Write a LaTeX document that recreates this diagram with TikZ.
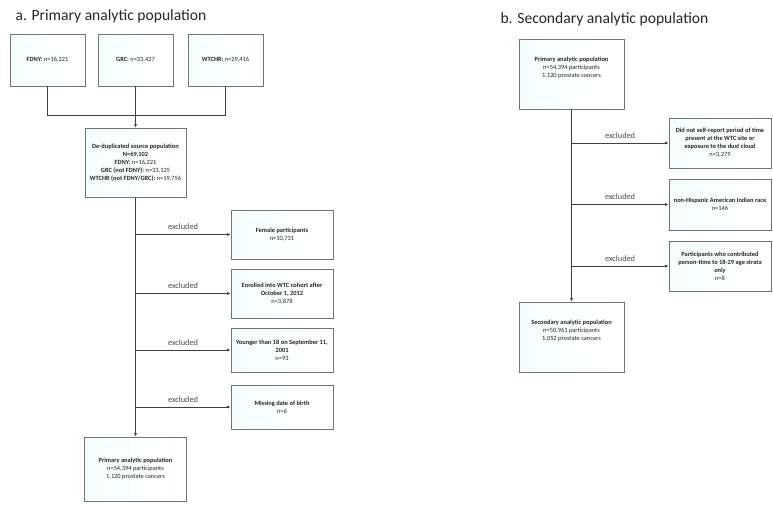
\documentclass[tikz,border=0pt]{standalone}
\usepackage{fontspec}
\setmainfont{Carlito}
\usetikzlibrary{arrows.meta}

\begin{document}
\begin{tikzpicture}[x=1pt,y=-1pt,>={Latex[length=3.5pt,width=3pt]},
  box/.style={draw=black!55,line width=0.7pt,left color=blue!6!cyan!4!white,right color=white,
    align=center,inner sep=1pt,font=\fontsize{6.4}{8}\selectfont,text=black!85},
  link/.style={draw=black!75,line width=0.7pt},
  title/.style={anchor=west,font=\fontsize{15.6}{18}\selectfont,text=black!85}]
  \tikzstyle{excl} = [above=1pt,font=\fontsize{8.3}{10}\selectfont,text=black!70]
  \path[use as bounding box,fill=white] (0,0) rectangle (773,504);
  \node (a_title) [title] at (12,16) {a. Primary analytic population};
  \node (b_title) [title] at (497,19) {b. Secondary analytic population};
  \node (a_fdny) [box,minimum width=75pt,minimum height=52pt] at (47.5,60) {\textbf{FDNY:} n=16,221};
  \node (a_grc) [box,minimum width=75pt,minimum height=52pt] at (135.5,60) {\textbf{GRC:} n=33,427};
  \node (a_wtchr) [box,minimum width=75pt,minimum height=52pt] at (225.5,60) {\textbf{WTCHR:} n=29,416};
  \coordinate (a_join) at (135.5,115);
  \node (a_dedup) [box,minimum width=101pt,minimum height=69pt] at (135.5,162.5)
    {\textbf{De-duplicated source population}\\ \textbf{N=69,102}\\ \textbf{FDNY:} n=16,221\\
     \textbf{GRC (not FDNY):} n=33,125\\ \textbf{WTCHR (not FDNY/GRC):} n=19,756};
  \node (a_female) [box,minimum width=102pt,minimum height=49pt] at (282,234.5)
    {\textbf{Female participants}\\ n=10,731};
  \node (a_enrol) [box,minimum width=102pt,minimum height=49pt] at (282,293.5)
    {\textbf{Enrolled into WTC cohort after}\\ \textbf{October 1, 2012}\\ n=3,878};
  \node (a_young) [box,minimum width=102pt,minimum height=44pt] at (282,350)
    {\textbf{Younger than 18 on September 11,}\\ \textbf{2001}\\ n=93};
  \node (a_missing) [box,minimum width=102pt,minimum height=44pt] at (282,407)
    {\textbf{Missing date of birth}\\ n=6};
  \node (a_primary) [box,minimum width=102pt,minimum height=64pt] at (135.5,469)
    {\textbf{Primary analytic population}\\ n=54,394 participants\\ 1,120 prostate cancers};
  \node (b_primary) [box,minimum width=105pt,minimum height=70pt] at (571.5,74)
    {\textbf{Primary analytic population}\\ n=54,394 participants\\ 1,120 prostate cancers\\[6pt]};
  \node (b_self) [box,minimum width=102pt,minimum height=50pt] at (720,143)
    {\textbf{Did not self-report period of time}\\ \textbf{present at the WTC site or}\\
     \textbf{exposure to the dust cloud}\\ n=3,279};
  \node (b_race) [box,minimum width=102pt,minimum height=51pt] at (720,204.5)
    {\textbf{non-Hispanic American Indian race}\\ n=146};
  \node (b_strata) [box,minimum width=102pt,minimum height=50pt] at (720,266)
    {\textbf{Participants who contributed}\\ \textbf{person-time to 18-29 age strata}\\
     \textbf{only}\\ n=8};
  \node (b_second) [box,minimum width=105pt,minimum height=70pt] at (571.5,337)
    {\textbf{Secondary analytic population}\\ n=50,961 participants\\ 1,052 prostate cancers\\[6pt]};
  \draw[link] (a_fdny) |- (a_join);
  \draw[link] (a_wtchr) |- (a_join);
  \draw[link,->] (a_grc) -- (a_dedup);
  \draw[link,->] (a_dedup) -- (a_primary);
  \draw[link,->] (a_dedup.south |- a_female) -- (a_female) node[midway,excl] {excluded};
  \draw[link,->] (a_dedup.south |- a_enrol) -- (a_enrol) node[midway,excl] {excluded};
  \draw[link,->] (a_dedup.south |- a_young) -- (a_young) node[midway,excl] {excluded};
  \draw[link,->] (a_dedup.south |- a_missing) -- (a_missing) node[midway,excl] {excluded};
  \draw[link,->] (b_primary) -- (b_second);
  \draw[link,->] (b_primary.south |- b_self) -- (b_self) node[midway,excl] {excluded};
  \draw[link,->] (b_primary.south |- b_race) -- (b_race) node[midway,excl] {excluded};
  \draw[link,->] (b_primary.south |- b_strata) -- (b_strata) node[midway,excl] {excluded};
\end{tikzpicture}
\end{document}
